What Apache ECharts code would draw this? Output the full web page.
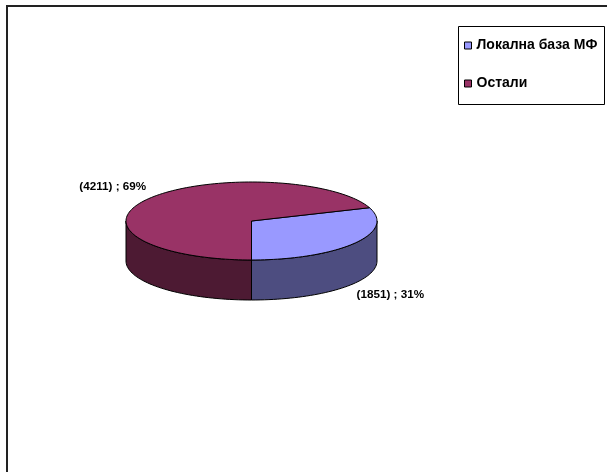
<!DOCTYPE html>
<html>
<head>
<meta charset="utf-8">
<script src="https://cdn.jsdelivr.net/npm/echarts@6/dist/echarts.min.js"></script>
<style>
html, body { margin: 0; padding: 0; background: #fff; }
#chart { width: 607px; height: 472px; }
</style>
</head>
<body>
<div id="chart"></div>
<script>
var categories = ['Локална база МФ', 'Остали'];
var values = [1851, 4211];
var topColors = ['#9999FF', '#993366'];
var sideColors = ['#4D4D80', '#4D1A33'];

// 3D pie look (Excel style): ellipse centre, radii, wall depth
var cx = 251.5, cy = 221, rx = 125.5, ry = 39, depth = 40;
var firstAngle = -90; // first slice starts at 6 o'clock and goes counter clockwise

var total = 0;
for (var i = 0; i < values.length; i++) total += values[i];

function sliceAngles(idx) {
    var a = firstAngle;
    for (var k = 0; k < idx; k++) a += values[k] / total * 360;
    return [a, a + values[idx] / total * 360];
}

function pt(deg, dy) {
    var r = deg * Math.PI / 180;
    return [cx + rx * Math.cos(r), cy - ry * Math.sin(r) + (dy || 0)];
}

function arc(a0, a1, dy) {
    var pts = [];
    var n = Math.max(2, Math.ceil(Math.abs(a1 - a0) / 2));
    for (var k = 0; k <= n; k++) pts.push(pt(a0 + (a1 - a0) * k / n, dy));
    return pts;
}

function renderSlice(idx) {
    return function (params, api) {
        var ang = sliceAngles(idx);
        var a0 = ang[0], a1 = ang[1];
        var children = [];
        // front walls: parts of the arc with angle in [-180,0] or [180,360]
        var fronts = [[-180, 0], [180, 360]];
        fronts.forEach(function (f) {
            var s = Math.max(a0, f[0]), e = Math.min(a1, f[1]);
            if (e > s) {
                var pts = arc(s, e, 0).concat(arc(e, s, depth));
                children.push({
                    type: 'polygon',
                    z2: 1,
                    shape: { points: pts },
                    style: { fill: sideColors[idx], stroke: '#000', lineWidth: 1 }
                });
            }
        });
        // top face
        children.push({
            type: 'polygon',
            z2: 5,
            shape: { points: [[cx, cy]].concat(arc(a0, a1, 0)) },
            style: { fill: topColors[idx], stroke: '#000', lineWidth: 1 }
        });
        // label outside
        var mid = (a0 + a1) / 2 * Math.PI / 180;
        var c = Math.cos(mid), s = Math.sin(mid);
        var lx = cx + (rx + 44) * c;
        var ly = cy - (ry + 20) * s + (s < 0 ? depth : 0);
        var pct = Math.round(api.value(0) / total * 100);
        children.push({
            type: 'text',
            z2: 6,
            x: lx,
            y: ly,
            style: {
                text: '(' + api.value(0) + ') ; ' + pct + '%',
                fill: '#000',
                font: 'bold 11.7px "Liberation Sans", Arial, sans-serif',
                align: 'center',
                verticalAlign: 'middle'
            }
        });
        return { type: 'group', children: children };
    };
}

var series = [];
for (var j = 0; j < categories.length; j++) {
    series.push({
        type: 'custom',
        name: categories[j],
        coordinateSystem: 'none',
        itemStyle: { color: topColors[j] },
        data: [[values[j]]],
        renderItem: renderSlice(j)
    });
}

var chart = echarts.init(document.getElementById('chart'));
chart.setOption({
    animation: false,
    backgroundColor: '#fff',
    graphic: [
        {
            type: 'rect',
            shape: { x: 7, y: 6, width: 640, height: 500 },
            style: { fill: 'none', stroke: '#222', lineWidth: 2 }
        },
        {
            type: 'rect',
            shape: { x: 458.5, y: 26.5, width: 146, height: 78 },
            style: { fill: '#fff', stroke: '#000', lineWidth: 1 }
        }
    ],
    legend: {
        orient: 'vertical',
        left: 464,
        top: 37.5,
        padding: 0,
        itemGap: 22,
        itemWidth: 7,
        itemHeight: 7,
        icon: 'rect',
        selectedMode: false,
        data: categories,
        itemStyle: { borderColor: '#000', borderWidth: 1 },
        textStyle: {
            fontFamily: '"Liberation Sans", Arial, sans-serif',
            fontWeight: 'bold',
            fontSize: 14,
            lineHeight: 16,
            color: '#000'
        }
    },
    series: series
});
</script>
</body>
</html>
